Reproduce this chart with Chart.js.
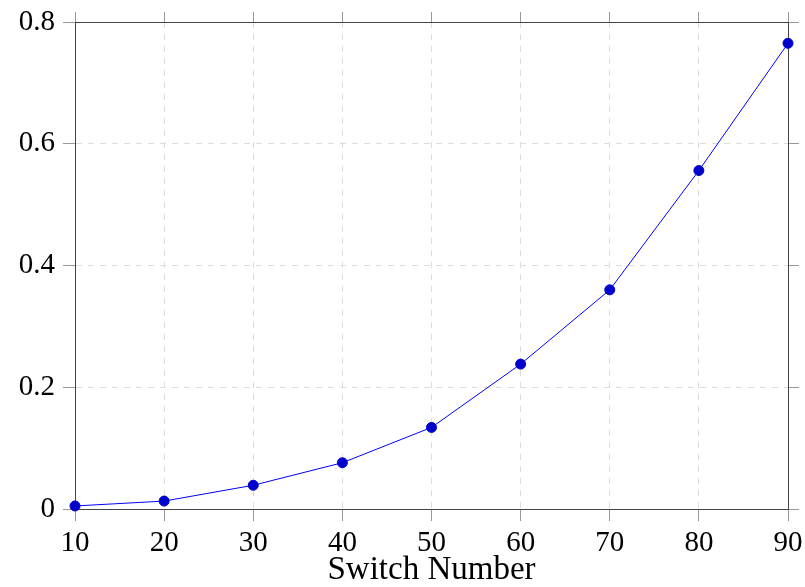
<!DOCTYPE HTML>
<html>
<head>
  <script src="https://cdn.jsdelivr.net/npm/chart.js@4/dist/chart.umd.min.js"></script>
  <style>
    body { margin: 0; background: #fff; }
  </style>
</head>
<body>
  <canvas id="myChart" width="805" height="587"></canvas>
  <script type="text/javascript">
    // data
    var switchNumbers = [10, 20, 30, 40, 50, 60, 70, 80, 90];
    var values = [0.005, 0.013, 0.039, 0.076, 0.134, 0.238, 0.360, 0.556, 0.765];
    var xTicks = [10, 20, 30, 40, 50, 60, 70, 80, 90];
    var yTicks = [0, 0.2, 0.4, 0.6, 0.8];

    var points = switchNumbers.map(function (x, i) { return { x: x, y: values[i] }; });

    var tickFont = { family: 'Liberation Serif', size: 29 };
    var gridColor = '#dddddd';
    var tickColor = '#999999';
    var frameColor = '#444444';

    function setTicks(list) {
      return function (scale) {
        scale.ticks = list.map(function (v) { return { value: v }; });
      };
    }

    // force the box sizes so the plot area lands where the reference has it
    function fixSize(w, h) {
      return function (s) {
        if (w !== null) s.width = w;
        if (h !== null) s.height = h;
        s.paddingTop = 0; s.paddingBottom = 0;
        s.paddingLeft = 0; s.paddingRight = 0;
      };
    }

    new Chart(document.getElementById('myChart'), {
      type: 'line',
      data: {
        datasets: [{
          data: points,
          borderColor: '#0000ff',
          borderWidth: 1,
          backgroundColor: '#0000cc',
          pointBackgroundColor: '#0000cc',
          pointBorderColor: '#0000cc',
          pointRadius: 5,
          pointBorderWidth: 1,
          tension: 0,
          clip: false
        }]
      },
      options: {
        responsive: false,
        animation: false,
        plugins: { legend: { display: false }, tooltip: { enabled: false } },
        layout: { padding: 0 },
        scales: {
          x: {
            type: 'linear', position: 'bottom', min: 10, max: 90,
            afterBuildTicks: setTicks(xTicks),
            afterFit: fixSize(null, 78),
            grid: { color: gridColor, tickLength: 12, tickColor: tickColor, tickBorderDash: [] },
            border: { color: frameColor, width: 1, dash: [6, 6] },
            ticks: { font: tickFont, color: '#000', padding: 5, maxRotation: 0 },
            title: { display: true, text: 'Switch Number', color: '#000',
                     font: { family: 'Liberation Serif', size: 33, lineHeight: 1 }, padding: 0 }
          },
          x2: {
            type: 'linear', position: 'top', min: 10, max: 90,
            afterBuildTicks: setTicks(xTicks),
            afterFit: fixSize(null, 22),
            grid: { drawOnChartArea: false, tickLength: 10, tickColor: tickColor },
            border: { color: frameColor, width: 1 },
            ticks: { display: false }
          },
          y: {
            type: 'linear', position: 'left', min: 0, max: 0.8,
            afterBuildTicks: setTicks(yTicks),
            afterFit: fixSize(75, null),
            grid: { color: gridColor, tickLength: 12, tickColor: tickColor, tickBorderDash: [] },
            border: { color: frameColor, width: 1, dash: [6, 6] },
            ticks: { font: tickFont, color: '#000', padding: 8 }
          },
          y2: {
            type: 'linear', position: 'right', min: 0, max: 0.8,
            afterBuildTicks: setTicks(yTicks),
            afterFit: fixSize(17, null),
            grid: { drawOnChartArea: false, tickLength: 11, tickColor: tickColor },
            border: { color: frameColor, width: 1 },
            ticks: { display: false }
          }
        }
      }
    });
  </script>
</body>
</html>
